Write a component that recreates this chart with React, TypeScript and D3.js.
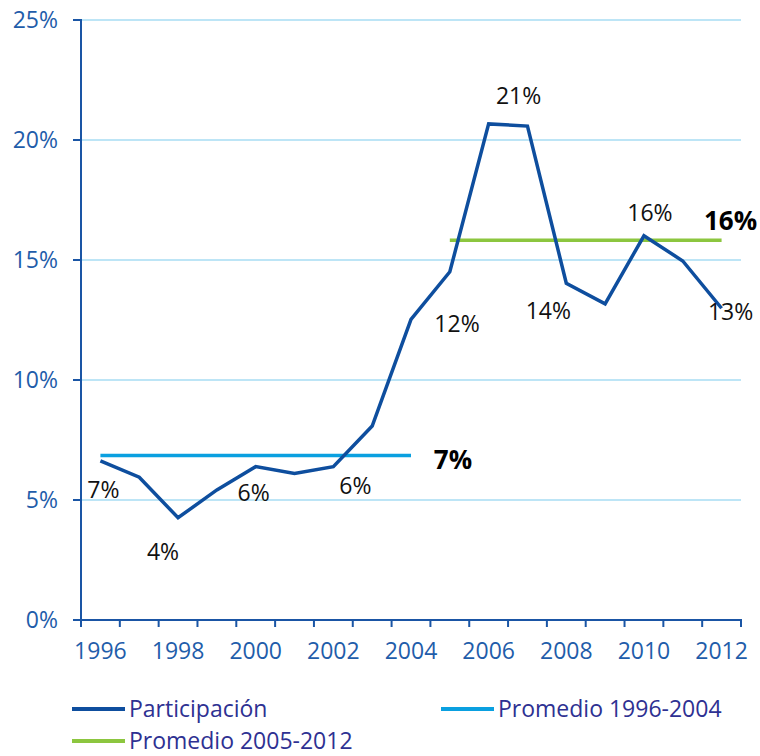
import * as d3 from 'd3';

const years = [1996, 1997, 1998, 1999, 2000, 2001, 2002, 2003, 2004, 2005, 2006, 2007, 2008, 2009, 2010, 2011, 2012];
const participacion = [6.63, 5.95, 4.26, 5.42, 6.39, 6.11, 6.39, 8.08, 12.53, 14.51, 20.67, 20.58, 14.03, 13.17, 16.01, 14.96, 12.99];
const promedio1 = { from: 1996, to: 2004, value: 6.85, label: '7%' };
const promedio2 = { from: 2005, to: 2012, value: 15.82, label: '16%' };
const yTicks = [0, 5, 10, 15, 20, 25];
const xTickLabels = [1996, 1998, 2000, 2002, 2004, 2006, 2008, 2010, 2012];
const pointLabels = ['7%', '4%', '6%', '6%', '12%', '21%', '14%', '16%', '13%'];
const legendItems = ['Participación', 'Promedio 1996-2004', 'Promedio 2005-2012'];

// label nudges, kept apart from the data
const pointLabelOffsets = [[3, 29], [-15, 34], [-2, 26], [22, 19], [46, 4], [30, -28], [-18, 27], [6, -23], [9, 3]];

const width = 760;
const height = 756;
const margin = { top: 20, right: 19, bottom: 136, left: 81 };

const colors = {
  line: '#0E4E9E',
  avg1: '#0AA0E0',
  avg2: '#8CC63F',
  grid: '#BDE5F6',
  axis: '#1A55A5',
  axisText: '#1F5DAA',
  legendText: '#2E3192',
};

const font = '"Open Sans", "Noto Sans", sans-serif';

const App = () => {
  const x = d3.scaleBand<number>()
    .domain(years)
    .range([margin.left, width - margin.right])
    .paddingInner(0)
    .paddingOuter(0);
  const cx = (yr: number) => (x(yr) as number) + x.bandwidth() / 2;

  const y = d3.scaleLinear()
    .domain([0, 25])
    .range([height - margin.bottom, margin.top]);

  const line = d3.line<number>()
    .x((d, i) => cx(years[i]))
    .y(d => y(d));

  const bounds = years.map(yr => x(yr) as number).concat([width - margin.right]);

  const legend = [
    { name: legendItems[0], color: colors.line, lx: 72, ly: 709 },
    { name: legendItems[1], color: colors.avg1, lx: 441, ly: 709 },
    { name: legendItems[2], color: colors.avg2, lx: 72, ly: 741 },
  ];

  return (
    <div style={{ position: 'absolute', left: 0, top: 0 }}>
      <svg width={width} height={height} style={{ display: 'block', fontFamily: font }}>
        <rect width={width} height={height} fill="#fff" />

        {/* gridlines */}
        {yTicks.filter(t => t > 0).map(t => (
          <line key={t} x1={margin.left} x2={width - margin.right} y1={y(t)} y2={y(t)}
            stroke={colors.grid} strokeWidth={2} />
        ))}

        {/* y axis */}
        <line x1={margin.left} x2={margin.left} y1={y(25) - 1} y2={y(0)} stroke={colors.axis} strokeWidth={2} />
        {yTicks.map(t => (
          <g key={t}>
            <line x1={margin.left - 8} x2={margin.left} y1={y(t)} y2={y(t)} stroke={colors.axis} strokeWidth={2} />
            <text x={58} y={y(t)} dy="0.36em" textAnchor="end" fontSize={23} fill={colors.axisText}>{t}%</text>
          </g>
        ))}

        {/* x axis */}
        <line x1={margin.left - 1} x2={width - margin.right + 1} y1={y(0)} y2={y(0)} stroke={colors.axis} strokeWidth={2} />
        {bounds.map((b, i) => (
          <line key={i} x1={b} x2={b} y1={y(0)} y2={y(0) + 7} stroke={colors.axis} strokeWidth={2} />
        ))}
        {xTickLabels.map(yr => (
          <text key={yr} x={cx(yr)} y={659} textAnchor="middle" fontSize={23} fill={colors.axisText}>{yr}</text>
        ))}

        {/* averages */}
        <line x1={cx(promedio1.from)} x2={cx(promedio1.to)} y1={y(promedio1.value)} y2={y(promedio1.value)}
          stroke={colors.avg1} strokeWidth={3.5} />
        <line x1={cx(promedio2.from)} x2={cx(promedio2.to)} y1={y(promedio2.value)} y2={y(promedio2.value)}
          stroke={colors.avg2} strokeWidth={3.5} />

        {/* main series */}
        <path d={line(participacion) ?? ''} fill="none" stroke={colors.line} strokeWidth={3.5} strokeLinejoin="miter" />

        {/* point labels */}
        {xTickLabels.map((yr, i) => {
          const v = participacion[years.indexOf(yr)];
          const [dx, dy] = pointLabelOffsets[i];
          return (
            <text key={yr} x={cx(yr) + dx} y={y(v) + dy} dy="0.36em" textAnchor="middle" fontSize={23} fill="#111">
              {pointLabels[i]}
            </text>
          );
        })}

        {/* average labels */}
        <text x={cx(promedio1.to) + 42} y={y(promedio1.value) + 4} dy="0.36em" textAnchor="middle"
          fontSize={26} fontWeight="bold" fill="#000">{promedio1.label}</text>
        <text x={cx(promedio2.to) + 9} y={y(promedio2.value) - 20} dy="0.36em" textAnchor="middle"
          fontSize={26} fontWeight="bold" fill="#000">{promedio2.label}</text>

        {/* legend */}
        {legend.map(l => (
          <g key={l.name}>
            <line x1={l.lx} x2={l.lx + 53} y1={l.ly} y2={l.ly} stroke={l.color} strokeWidth={4} />
            <text x={l.lx + 57} y={l.ly} dy="0.36em" fontSize={23} fill={colors.legendText}>{l.name}</text>
          </g>
        ))}
      </svg>
    </div>
  );
};

export default App;
